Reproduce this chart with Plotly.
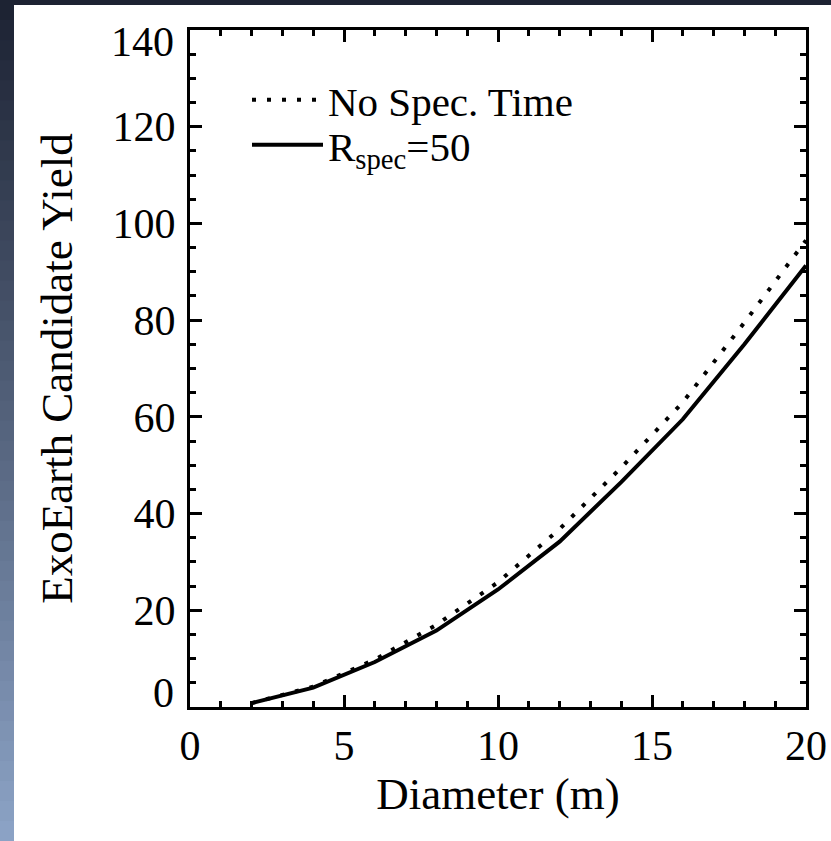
import plotly.graph_objects as go

# ---- data ----
diameter = [2, 4, 6, 8, 10, 12, 14, 16, 18, 20]
yield_no_spec = [0.8, 4.2, 9.8, 17.0, 25.8, 36.8, 49.5, 63.0, 79.5, 96.5]
yield_rspec50 = [0.8, 4.0, 9.3, 15.8, 24.3, 34.2, 46.5, 59.5, 75.0, 91.3]
x_ticks = [0, 5, 10, 15, 20]
y_ticks = [0, 20, 40, 60, 80, 100, 120, 140]

W, H = 831, 841
L, R, T, B = 190, 25, 30, 134
FONT = "Liberation Serif, Times New Roman, serif"

pw = W - L - R
ph = H - T - B
def px2x(px):
    return (px - L) / pw
def py2y(py):
    return 1 - (py - T) / ph

fig = go.Figure()
fig.add_trace(go.Scatter(x=diameter, y=yield_no_spec, mode="lines",
                         name="No Spec. Time", legend="legend",
                         line=dict(color="black", width=4, dash="4px,11px")))
fig.add_trace(go.Scatter(x=diameter, y=yield_rspec50, mode="lines",
                         name="R<sub>spec</sub>=50", legend="legend2",
                         line=dict(color="black", width=4)))

# decorative slide background: dark top strip and gradient left strip
shapes = []
shapes.append(dict(type="rect", xref="paper", yref="paper",
                   x0=px2x(0), x1=px2x(W), y0=py2y(0), y1=py2y(5),
                   fillcolor="#1d2232", line=dict(width=0), layer="below"))
n = 42
top = (0x1d, 0x23, 0x33)
bot = (0x8b, 0xa2, 0xc5)
for i in range(n):
    t = i / (n - 1)
    c = tuple(int(round(top[k] + (bot[k] - top[k]) * t)) for k in range(3))
    y0p = H * i / n
    y1p = H * (i + 1) / n + 1
    shapes.append(dict(type="rect", xref="paper", yref="paper",
                       x0=px2x(0), x1=px2x(14), y0=py2y(y0p), y1=py2y(y1p),
                       fillcolor="rgb(%d,%d,%d)" % c, line=dict(width=0),
                       layer="below"))

# end labels of the y axis sit inside the axis range (IDL style)
y_end_shift = {y_ticks[0]: 14, y_ticks[-1]: -12}
annotations = []
for v, s in y_end_shift.items():
    annotations.append(dict(text=str(v), x=px2x(176), xref="paper", y=v, yref="y",
                            xanchor="right", yanchor="middle", yshift=s,
                            showarrow=False,
                            font=dict(family=FONT, size=42, color="black")))
y_inner = [v for v in y_ticks if v not in y_end_shift]

axis_common = dict(showline=True, linecolor="black", linewidth=3, mirror="ticks",
                   ticks="inside", ticklen=12, tickwidth=3, tickcolor="black",
                   showgrid=False, zeroline=False, automargin=False,
                   tickfont=dict(family=FONT, size=42, color="black"))

leg_common = dict(xanchor="left", yanchor="middle", bgcolor="rgba(0,0,0,0)",
                  itemwidth=71, borderwidth=0,
                  font=dict(family=FONT, size=41, color="black"))

fig.update_layout(
    width=W, height=H,
    margin=dict(l=L, r=R, t=T, b=B, autoexpand=False),
    paper_bgcolor="white", plot_bgcolor="white",
    shapes=shapes,
    annotations=annotations,
    showlegend=True,
    legend=dict(x=px2x(247), y=py2y(100), **leg_common),
    legend2=dict(x=px2x(247), y=py2y(145), **leg_common),
    xaxis=dict(range=[0, 20], tickvals=x_ticks, ticktext=[str(v) for v in x_ticks],
               minor=dict(dtick=1, ticks="inside", ticklen=6, tickwidth=3, tickcolor="black"),
               title=dict(text="Diameter (m)", font=dict(family=FONT, size=45, color="black"),
                          standoff=10),
               **axis_common),
    yaxis=dict(range=[0, 140], tickvals=y_inner, ticktext=[str(v) for v in y_inner],
               ticklabelstandoff=3,
               minor=dict(dtick=5, ticks="inside", ticklen=6, tickwidth=3, tickcolor="black"),
               title=dict(text="ExoEarth Candidate Yield", font=dict(family=FONT, size=45, color="black"),
                          standoff=26),
               **axis_common),
)

fig.write_html("out.html")
